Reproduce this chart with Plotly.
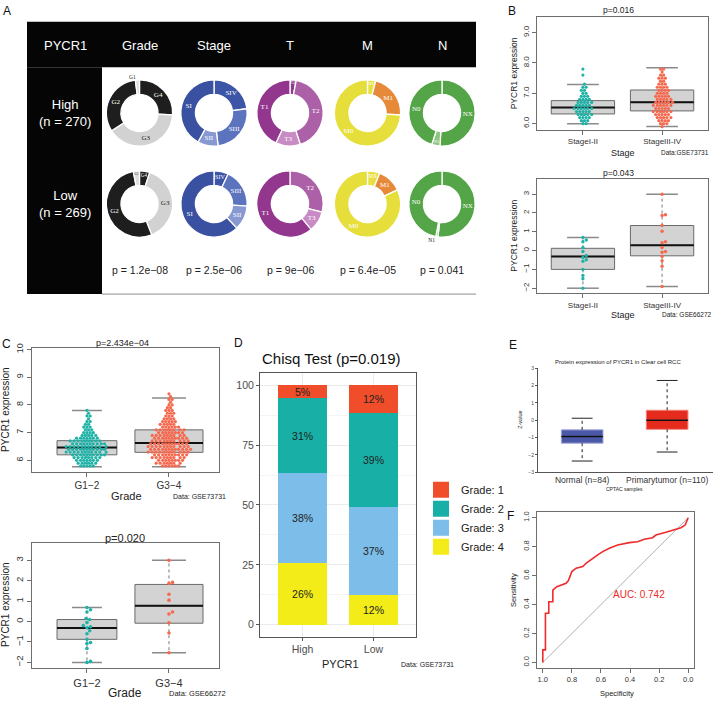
import numpy as np
import plotly.graph_objects as go

W, H = 715, 703
FONT = 'Liberation Sans'

# ---------------- A: donut charts (slices clockwise from 12 o'clock, %) ----------------
grade_labels = ['G4', 'G3', 'G2', 'G1']
grade_high = [26, 40, 32, 2]
grade_low = [5, 39, 53, 3]
stage_labels = ['SIV', 'SIII', 'SII', 'SI']
stage_high = [23, 25, 10, 42]
stage_low = [7, 19, 12, 62]
t_labels_high = ['T4', 'T2', 'T3', 'T1']
t_high = [3, 42, 12, 43]
t_labels_low = ['T2', 'T3', 'T1']
t_low = [29, 10, 61]
m_labels = ['MX', 'M1', 'M0']
m_high = [4, 22, 74]
m_low = [6, 12, 82]
n_labels = ['NX', 'N1', 'N0']
n_high = [51, 4, 45]
n_low = [52, 1, 47]
donut_titles = ['Grade', 'Stage', 'T', 'M', 'N']
donut_pvalues = ['p = 1.2e−08', 'p = 2.5e−06', 'p = 9e−06', 'p = 6.4e−05', 'p = 0.041']

# ---------------- B: stage, GSE73731 (top) and GSE66272 (bottom) ----------------
stage_cats = ['StageI-II', 'StageIII-IV']
b1_lower = [6.0, 5.91]
b1_q1 = [6.32, 6.42]
b1_median = [6.53, 6.71]
b1_q3 = [6.76, 7.11]
b1_upper = [7.29, 7.84]
b1_bins_a = [6.0, 6.1, 6.2, 6.3, 6.4, 6.5, 6.6, 6.7, 6.8, 6.9, 7.0, 7.1, 7.2, 7.3, 7.6, 7.8]
b1_counts_a = [2, 3, 4, 5, 5, 6, 5, 5, 4, 3, 2, 2, 2, 1, 1, 1]
b1_bins_b = [5.9, 6.0, 6.1, 6.2, 6.3, 6.4, 6.5, 6.6, 6.7, 6.8, 6.9, 7.0, 7.1, 7.2, 7.3, 7.4, 7.5, 7.6, 7.7, 7.8]
b1_counts_b = [1, 3, 4, 5, 5, 6, 5, 6, 6, 5, 5, 4, 4, 4, 3, 2, 3, 2, 1, 2]

b2_lower = [-2.0, -1.91]
b2_q1 = [-1.0, -0.28]
b2_median = [-0.31, 0.28]
b2_q3 = [0.12, 1.33]
b2_upper = [0.70, 2.99]
b2_points_a = [0.70, 0.56, 0.47, 0.16, -0.05, -0.26, -0.37, -0.49, -0.57, -1.0, -1.32, -1.5, -2.0]
b2_points_b = [2.99, 1.9, 1.86, 1.33, 1.03, 0.47, 0.42, 0.16, -0.05, -0.09, -0.31, -0.54, -0.83, -1.91]

# ---------------- C: grade, GSE73731 (top) and GSE66272 (bottom) ----------------
grade_cats = ['G1−2', 'G3−4']
c_widths = [0.73, 0.83]
c1_lower = [5.77, 5.77]
c1_q1 = [6.2, 6.29]
c1_median = [6.46, 6.63]
c1_q3 = [6.71, 7.1]
c1_upper = [7.8, 8.25]
c1_bins_a = [5.8, 5.9, 6.0, 6.1, 6.2, 6.3, 6.4, 6.5, 6.6, 6.7, 6.8, 6.9, 7.0, 7.1, 7.2, 7.3, 7.4, 7.5, 7.6, 7.7, 7.8]
c1_counts_a = [5, 6, 7, 8, 10, 11, 11, 11, 10, 9, 7, 5, 4, 3, 3, 2, 2, 1, 2, 1, 1]
c1_bins_b = [5.8, 5.9, 6.0, 6.1, 6.2, 6.3, 6.4, 6.5, 6.6, 6.7, 6.8, 6.9, 7.0, 7.1, 7.2, 7.3, 7.4, 7.5,
             7.6, 7.7, 7.8, 7.9, 8.0, 8.1, 8.2, 8.3, 8.4]
c1_counts_b = [6, 7, 8, 9, 10, 11, 12, 11, 11, 10, 10, 9, 8, 8, 6, 5, 5, 4, 3, 3, 3, 2, 2, 1, 2, 1, 1]

c2_lower = [-2.0, -1.53]
c2_q1 = [-0.87, -0.08]
c2_median = [-0.31, 0.77]
c2_q3 = [0.1, 1.82]
c2_upper = [0.69, 3.0]
c2_points_a = [0.69, 0.58, 0.47, 0.15, 0.1, -0.05, -0.2, -0.25, -0.3, -0.45, -0.6, -0.87, -1.03, -1.08,
               -1.32, -1.95, -2.0]
c2_points_b = [3.0, 1.92, 1.87, 1.34, 1.05, 0.47, 0.37, -0.06, -0.56, -1.53]

# ---------------- D: grade composition by PYCR1 group (%) ----------------
d_groups = ['High', 'Low']
d_grade1 = [5.4, 11.6]
d_grade2 = [31.4, 39.2]
d_grade3 = [37.6, 36.8]
d_grade4 = [25.6, 12.4]

# ---------------- E: CPTAC protein expression ----------------
e_cats = ['Normal (n=84)', 'Primarytumor (n=110)']
e_lower = [-2.35, -1.83]
e_q1 = [-1.32, -0.52]
e_median = [-0.93, 0.0]
e_q3 = [-0.55, 0.58]
e_upper = [0.12, 2.3]

# ---------------- F: ROC ----------------
roc_spec = [1.0, 1.0, 0.982, 0.982, 0.959, 0.959, 0.931, 0.931, 0.904, 0.886, 0.84, 0.824, 0.81, 0.80,
            0.771, 0.725, 0.703, 0.657, 0.622, 0.588, 0.542, 0.485, 0.405, 0.348, 0.302, 0.245,
            0.222, 0.153, 0.096, 0.05, 0.021, 0.005, 0.0]
roc_sens = [0.0, 0.087, 0.087, 0.34, 0.34, 0.42, 0.42, 0.50, 0.524, 0.531, 0.547, 0.566, 0.605, 0.628,
            0.651, 0.662, 0.685, 0.72, 0.743, 0.766, 0.789, 0.811, 0.828, 0.834, 0.851, 0.862,
            0.88, 0.899, 0.915, 0.931, 0.949, 0.984, 1.0]
auc = 0.742

TEAL = '#1fb3a8'
SALMON = '#f6694f'
DOT = 3.2

# pixel boxes of each plotting area and their axis ranges
panels = {
    'B1': dict(px=(537, 708), py=(13, 127), xr=[-0.58, 1.58], yr=[5.80, 9.52]),
    'B2': dict(px=(537, 708), py=(177, 292), xr=[-0.58, 1.58], yr=[-2.26, 3.79]),
    'C1': dict(px=(32, 219), py=(347, 473), xr=[-0.67, 1.61], yr=[5.57, 10.07]),
    'C2': dict(px=(32, 219), py=(544, 671), xr=[-0.67, 1.61], yr=[-2.29, 3.87]),
    'D': dict(px=(260, 416), py=(373, 639), xr=[0.4, 2.6], yr=[-5, 105]),
    'E': dict(px=(538, 713), py=(368, 473), xr=[-0.52, 1.54], yr=[-3, 3]),
    'F': dict(px=(537, 694), py=(513, 671), xr=[1.04, -0.04], yr=[-0.04, 1.04]),
}
for i, p in enumerate(panels.values(), start=1):
    sfx = '' if i == 1 else str(i)
    p['xa'], p['ya'] = 'x' + sfx, 'y' + sfx
    p['xk'], p['yk'] = 'xaxis' + sfx, 'yaxis' + sfx
    p['xdom'] = [p['px'][0] / W, p['px'][1] / W]
    p['ydom'] = [1 - p['py'][1] / H, 1 - p['py'][0] / H]


def swarm(values, center, p, d):
    # beeswarm offsets computed in pixel space
    xs_px = (p['px'][1] - p['px'][0]) / abs(p['xr'][1] - p['xr'][0])
    ys_px = (p['py'][1] - p['py'][0]) / abs(p['yr'][1] - p['yr'][0])
    vals = np.asarray(values, dtype=float)
    order = np.argsort(vals, kind='stable')
    placed = []
    xs = np.zeros(len(vals))
    step = d / 4
    for i in order:
        y = vals[i] * ys_px
        near = [(a, b) for a, b in placed if abs(b - y) < d]
        k = 0
        while True:
            off = ((k + 1) // 2) * step * (1 if k % 2 == 1 else -1)
            if all((a - off) ** 2 + (b - y) ** 2 >= d * d for a, b in near):
                break
            k += 1
        placed.append((off, y))
        xs[i] = center + off / xs_px
    return xs


fig = go.Figure()


def add_box(p, c, w, lo, q1, med, q3, hi, fill, edge, whisk_col, staple_col, staple_w=1.5):
    fig.add_trace(go.Box(x=[c], q1=[q1], median=[med], q3=[q3], lowerfence=[q1], upperfence=[q3],
                         width=w, whiskerwidth=0, fillcolor=fill, line=dict(color=edge, width=1),
                         boxpoints=False, xaxis=p['xa'], yaxis=p['ya'], showlegend=False, hoverinfo='skip'))
    fig.add_trace(go.Scatter(x=[c, c, None, c, c], y=[q3, hi, None, q1, lo], mode='lines',
                             line=dict(color=whisk_col, width=1, dash='dot'),
                             xaxis=p['xa'], yaxis=p['ya'], showlegend=False, hoverinfo='skip'))
    s = w / 4
    fig.add_trace(go.Scatter(x=[c - s, c + s, None, c - s, c + s], y=[hi, hi, None, lo, lo], mode='lines',
                             line=dict(color=staple_col, width=staple_w),
                             xaxis=p['xa'], yaxis=p['ya'], showlegend=False, hoverinfo='skip'))


def add_median(p, c, w, med, width=2):
    fig.add_trace(go.Scatter(x=[c - w / 2, c + w / 2], y=[med, med], mode='lines',
                             line=dict(color='#111', width=width),
                             xaxis=p['xa'], yaxis=p['ya'], showlegend=False, hoverinfo='skip'))


def add_points(p, vals, c, color, size):
    fig.add_trace(go.Scatter(x=swarm(vals, c, p, size), y=vals, mode='markers',
                             marker=dict(color=color, size=size, line=dict(width=0)),
                             xaxis=p['xa'], yaxis=p['ya'], showlegend=False, hoverinfo='skip'))


# ---- A: donuts ----
donut_cx = [139.5, 214, 290, 367.5, 442]
donut_cy = [110, 202]
RAD = 33.5
colors = {'G4': '#1e1e1e', 'G3': '#d2d2d2', 'G2': '#1e1e1e', 'G1': '#dedede',
          'SIV': '#3c55a7', 'SIII': '#5c73bd', 'SII': '#8899d2', 'SI': '#3a50a1',
          'T4': '#8f3a8c', 'T2': '#ab60a7', 'T3': '#c88bc3', 'T1': '#93378e',
          'MX': '#e7e040', 'M1': '#e68a3a', 'M0': '#e6de3a',
          'NX': '#54a547', 'N1': '#8dc47e', 'N0': '#54a547'}
dark_text = {'G3', 'G1'}
donut_sets = [
    [(grade_labels, grade_high), (grade_labels, grade_low)],
    [(stage_labels, stage_high), (stage_labels, stage_low)],
    [(t_labels_high, t_high), (t_labels_low, t_low)],
    [(m_labels, m_high), (m_labels, m_low)],
    [(n_labels, n_high), (n_labels, n_low)],
]
for ci, rows in enumerate(donut_sets):
    for ri, (labs, vals) in enumerate(rows):
        cx, cy = donut_cx[ci], donut_cy[ri]
        fig.add_trace(go.Pie(
            labels=labs, values=vals, sort=False, direction='clockwise', rotation=0, hole=0.56,
            marker=dict(colors=[colors[l] for l in labs], line=dict(color='white', width=1.3)),
            textinfo='label', insidetextorientation='horizontal',
            textposition=['outside' if v <= 2 else 'inside' for v in vals],
            textfont=dict(family='Liberation Serif', size=7,
                          color=['#222' if l in dark_text else 'white' for l in labs]),
            outsidetextfont=dict(family='Liberation Serif', size=5.5, color='#222'),
            domain=dict(x=[(cx - RAD) / W, (cx + RAD) / W], y=[1 - (cy + RAD) / H, 1 - (cy - RAD) / H]),
            showlegend=False, hoverinfo='skip'))

# ---- B top ----
p = panels['B1']
for c, bins, cnts, col in [(0, b1_bins_a, b1_counts_a, TEAL), (1, b1_bins_b, b1_counts_b, SALMON)]:
    add_box(p, c, 0.8, b1_lower[c], b1_q1[c], b1_median[c], b1_q3[c], b1_upper[c],
            '#d3d3d3', '#6a6a6a', '#777', '#8a8a8a')
    add_median(p, c, 0.8, b1_median[c])
    add_points(p, np.repeat(bins, cnts), c, col, DOT)

# ---- B bottom ----
p = panels['B2']
for c, pts, col in [(0, b2_points_a, TEAL), (1, b2_points_b, SALMON)]:
    add_box(p, c, 0.8, b2_lower[c], b2_q1[c], b2_median[c], b2_q3[c], b2_upper[c],
            '#d3d3d3', '#6a6a6a', '#777', '#8a8a8a')
    add_median(p, c, 0.8, b2_median[c])
    add_points(p, pts, c, col, 3.4)

# ---- C top ----
p = panels['C1']
for c, bins, cnts, col in [(0, c1_bins_a, c1_counts_a, TEAL), (1, c1_bins_b, c1_counts_b, SALMON)]:
    add_box(p, c, c_widths[c], c1_lower[c], c1_q1[c], c1_median[c], c1_q3[c], c1_upper[c],
            '#d3d3d3', '#6a6a6a', '#777', '#8a8a8a')
    add_median(p, c, c_widths[c], c1_median[c])
    add_points(p, np.repeat(bins, cnts), c, col, DOT)

# ---- C bottom ----
p = panels['C2']
for c, pts, col in [(0, c2_points_a, TEAL), (1, c2_points_b, SALMON)]:
    add_box(p, c, c_widths[c], c2_lower[c], c2_q1[c], c2_median[c], c2_q3[c], c2_upper[c],
            '#d3d3d3', '#6a6a6a', '#777', '#8a8a8a')
    add_median(p, c, c_widths[c], c2_median[c])
    add_points(p, pts, c, col, 3.6)

# ---- D stacked bars (legend drawn with square markers so keys match ggplot size) ----
p = panels['D']
for name, vals, col in [('Grade: 4', d_grade4, '#f4ec19'), ('Grade: 3', d_grade3, '#7cbde9'),
                        ('Grade: 2', d_grade2, '#18b0a6'), ('Grade: 1', d_grade1, '#f04e2a')]:
    fig.add_trace(go.Bar(x=[1, 2], y=vals, name=name, width=0.7, marker=dict(color=col, line=dict(width=0)),
                         text=[f'{round(v)}%' for v in vals], textposition='inside', insidetextanchor='middle',
                         textangle=0, constraintext='none', showlegend=False,
                         textfont=dict(size=10.5, color='#222', family=FONT),
                         xaxis=p['xa'], yaxis=p['ya'], hoverinfo='skip'))
    fig.add_trace(go.Scatter(x=[None], y=[None], mode='markers', name=name,
                             marker=dict(symbol='square', size=17, color=col, line=dict(width=0)),
                             xaxis=p['xa'], yaxis=p['ya'], hoverinfo='skip'))

# ---- E CPTAC ----
p = panels['E']
for c, fill, edge in [(0, '#4b58a8', '#a3a8dc'), (1, '#e52a1e', '#f28378')]:
    add_box(p, c, 0.49, e_lower[c], e_q1[c], e_median[c], e_q3[c], e_upper[c],
            fill, edge, '#222', '#222', staple_w=1)
    add_median(p, c, 0.49, e_median[c], width=1.5)

# ---- F ROC ----
p = panels['F']
fig.add_trace(go.Scatter(x=[1, 0], y=[0, 1], mode='lines', line=dict(color='#b0b0b0', width=1),
                         xaxis=p['xa'], yaxis=p['ya'], showlegend=False, hoverinfo='skip'))
fig.add_trace(go.Scatter(x=roc_spec, y=roc_sens, mode='lines', line=dict(color='#ee2a2a', width=1.6),
                         xaxis=p['xa'], yaxis=p['ya'], showlegend=False, hoverinfo='skip'))

# ---------------- axes ----------------
axes = {}


def base_axis(dom, rng, size, anchor, **kw):
    d = dict(domain=dom, range=rng, anchor=anchor, showline=True, mirror=True, linecolor='#6e6e6e',
             linewidth=1, ticks='outside', ticklen=4, tickcolor='#6e6e6e', showgrid=False, zeroline=False,
             tickfont=dict(size=size, color='#333', family=FONT), fixedrange=True)
    d.update(kw)
    return d


for key, cats, xs, ys, ydt, yfmt in [('B1', stage_cats, 8, 8, 1, '.1f'), ('B2', stage_cats, 8, 8, 1, 'd'),
                                     ('C1', grade_cats, 10, 9, 1, 'd'), ('C2', grade_cats, 11, 9.5, 1, 'd')]:
    p = panels[key]
    axes[p['xk']] = base_axis(p['xdom'], p['xr'], xs, p['ya'], tickvals=[0, 1], ticktext=cats)
    axes[p['yk']] = base_axis(p['ydom'], p['yr'], ys, p['xa'], dtick=ydt, tick0=0, tickformat=yfmt,
                              tickangle=-90)

p = panels['D']
axes[p['xk']] = base_axis(p['xdom'], p['xr'], 10.5, p['ya'], tickvals=[1, 2], ticktext=d_groups,
                          showgrid=True, gridcolor='#ebebeb', linecolor='#555', tickcolor='#555', ticklen=3,
                          tickfont=dict(size=10.5, color='#4d4d4d', family=FONT))
axes[p['yk']] = base_axis(p['ydom'], p['yr'], 10.5, p['xa'], tickvals=[0, 25, 50, 75, 100],
                          showgrid=True, gridcolor='#ebebeb', linecolor='#555', tickcolor='#555', ticklen=3,
                          minor=dict(tickvals=[12.5, 37.5, 62.5, 87.5], showgrid=True, gridcolor='#f4f4f4',
                                     ticks=''),
                          tickfont=dict(size=10.5, color='#4d4d4d', family=FONT))

p = panels['E']
axes[p['xk']] = base_axis(p['xdom'], p['xr'], 8.5, p['ya'], tickvals=[0, 1], ticktext=e_cats, mirror=False,
                          ticks='', linecolor='#555', tickfont=dict(size=8.5, color='#333', family=FONT))
axes[p['yk']] = base_axis(p['ydom'], p['yr'], 5, p['xa'], dtick=1, mirror=False, ticklen=2,
                          linecolor='#555', tickcolor='#555', tickfont=dict(size=5, color='#444', family=FONT))

p = panels['F']
axes[p['xk']] = base_axis(p['xdom'], p['xr'], 7.5, p['ya'], tickvals=[1, 0.8, 0.6, 0.4, 0.2, 0],
                          tickformat='.1f')
axes[p['yk']] = base_axis(p['ydom'], p['yr'], 7.5, p['xa'], tickvals=[0, 0.2, 0.4, 0.6, 0.8, 1],
                          tickformat='.1f', tickangle=-90)

# ---------------- texts ----------------
annotations = []


def label(x, y, text, size, color='#222', angle=0, xanchor='center'):
    annotations.append(dict(x=x / W, y=1 - y / H, xref='paper', yref='paper', text=text, showarrow=False,
                            font=dict(size=size, color=color, family=FONT), textangle=angle,
                            xanchor=xanchor, yanchor='middle'))


for t, x, y in [('A', 7, 7), ('B', 512, 7), ('C', 6, 343), ('D', 238, 342), ('E', 513, 344), ('F', 510, 517)]:
    label(x, y, t, 12, '#111')

# panel A table texts
label(65, 42, 'PYCR1', 13, 'white')
for t, x in zip(donut_titles, donut_cx):
    label(x, 42, t, 13, 'white')
label(65, 110, 'High<br>(n = 270)', 13, 'white')
label(65, 202, 'Low<br>(n = 269)', 13, 'white')
for t, x in zip(donut_pvalues, donut_cx):
    label(x, 269, t, 10.5, '#222')

# B
label(618, 6, 'p=0.016', 8.5)
label(514, 70, 'PYCR1 expression', 8.5, angle=-90)
label(623, 150, 'Stage', 9)
label(685, 150, 'Data:GSE73731', 6.5)
label(618, 171, 'p=0.043', 8.5)
label(514, 234, 'PYCR1 expression', 8.5, angle=-90)
label(623, 314, 'Stage', 9)
label(687, 314, 'Data: GSE66272', 6.5)

# C
label(122, 342, 'p=2.434e−04', 9)
label(6, 410, 'PYCR1 expression', 10, angle=-90)
label(126, 497, 'Grade', 11)
label(199, 497, 'Data: GSE73731', 7)
label(125, 539, 'p=0.020', 11)
label(6, 607, 'PYCR1 expression', 10, angle=-90)
label(125, 696, 'Grade', 12)
label(197, 696, 'Data: GSE66272', 7.5)

# D
label(260, 358, 'Chisq Test (p=0.019)', 15, '#111', xanchor='left')
label(340, 667, 'PYCR1', 11)
label(427, 667, 'Data: GSE73731', 7)

# E
label(618, 362, 'Protein expression of PYCR1 in Clear cell RCC', 6)
label(520, 420, 'Z-value', 5.5, angle=-90)
label(624, 490, 'CPTAC samples', 5)

# F
label(513, 592, 'Sensitivity', 7.5, angle=-90)
label(617, 696, 'Specificity', 7.5)
annotations.append(dict(x=0.336, y=0.47, xref=panels['F']['xa'], yref=panels['F']['ya'],
                        text=f'AUC: {auc:.3f}', showarrow=False,
                        font=dict(size=10, color='#ee2a2a', family=FONT)))

shapes = [
    dict(type='rect', xref='paper', yref='paper', x0=27 / W, x1=476 / W, y0=1 - 64 / H, y1=1 - 18 / H,
         fillcolor='#050505', line=dict(width=0), layer='below'),
    dict(type='rect', xref='paper', yref='paper', x0=27 / W, x1=102 / W, y0=1 - 293 / H, y1=1 - 64 / H,
         fillcolor='#050505', line=dict(width=0), layer='below'),
    dict(type='line', xref='paper', yref='paper', x0=102 / W, x1=476 / W, y0=1 - 293 / H, y1=1 - 293 / H,
         line=dict(color='#8c8c8c', width=1)),
]

fig.update_layout(
    width=W, height=H, margin=dict(l=0, r=0, t=0, b=0),
    paper_bgcolor='white', plot_bgcolor='white',
    font=dict(family=FONT, color='#222'),
    barmode='stack', bargap=0.3,
    legend=dict(x=421 / W, y=1 - 476 / H, xanchor='left', yanchor='top', traceorder='reversed',
                font=dict(size=11, color='#222', family=FONT), bgcolor='rgba(0,0,0,0)',
                itemsizing='trace', tracegroupgap=0, itemwidth=30),
    annotations=annotations, shapes=shapes,
    **axes,
)

fig.write_html('out.html', config={'displayModeBar': False},
               post_script="document.body.style.margin='0';")
